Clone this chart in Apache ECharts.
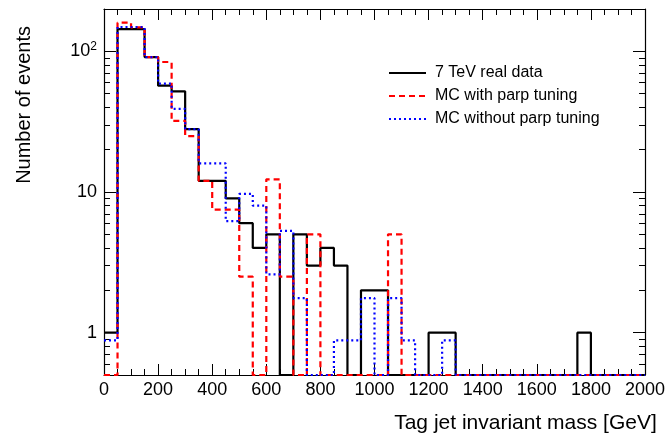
<!DOCTYPE html>
<html>
<head>
<meta charset="utf-8">
<script src="https://cdn.jsdelivr.net/npm/echarts@6/dist/echarts.min.js"></script>
<style>
html,body{margin:0;padding:0;background:#fff;}
#c{width:672px;height:442px;}
</style>
</head>
<body>
<div id="c"></div>
<script>
// Bin lower edges (GeV), bin width 50 GeV
const binLow = [0,50,100,150,200,250,300,350,400,450,500,550,600,650,700,750,800,850,900,950,
                1000,1050,1100,1150,1200,1250,1300,1350,1400,1450,1500,1550,1600,1650,1700,1750,1800,1850,1900,1950];
const binWidth = 50;
// Number of events per bin
const realData = [1,144,144,91,57,52,28,12,12,9,6,4,5,0,5,3,4,3,0,2,
                  2,0,0,0,1,1,0,0,0,0,0,0,0,0,0,1,0,0,0,0];
const mcParp   = [0,160,148,91,84,32,25,12,7.5,7.5,2.5,0,12.3,2.5,0,5,0,0,0,0,
                  0,5,0,0,0,0,0,0,0,0,0,0,0,0,0,0,0,0,0,0];
const mcNoParp = [0.88,149,149,91,59,39,28,16,16,6.2,9.7,8,2.6,5.3,1.76,0,0,0.88,0.88,1.76,
                  0,1.76,0.88,0,0,0.88,0,0,0,0,0,0,0,0,0,0,0,0,0,0];
const seriesNames = ['7 TeV real data','MC with parp tuning','MC without parp tuning'];
const xTicks = [0,200,400,600,800,1000,1200,1400,1600,1800,2000];
const yMajor = [1,10,100];
const yMinor = [0.6,0.7,0.8,0.9,2,3,4,5,6,7,8,9,20,30,40,50,60,70,80,90,200];
const Y_MIN = 0.5, Y_MAX = 200;

function stepPoints(vals){
  const pts = [];
  for (let i = 0; i < binLow.length; i++){
    const v = vals[i] > 0 ? vals[i] : Y_MIN;
    pts.push([binLow[i], v]);
    pts.push([binLow[i] + binWidth, v]);
  }
  return pts;
}

const FONT = 'Liberation Sans';
const chart = echarts.init(document.getElementById('c'), null, {renderer:'canvas'});

function xAx(pos, showLabel){
  return {
    type:'value', position:pos, min:0, max:2000, interval:200,
    axisLine:{show:true, onZero:false, lineStyle:{color:'#000', width:1.2}},
    axisTick:{show:true, inside:true, length:11, lineStyle:{color:'#000', width:1}},
    minorTick:{show:true, splitNumber:4, length:6, lineStyle:{color:'#000', width:1}},
    splitLine:{show:false},
    axisLabel:{show:showLabel, fontSize:18, fontFamily:FONT, color:'#000', margin:6,
      customValues: xTicks, formatter:function(v){ return String(v); }},
    name: showLabel ? 'Tag jet invariant mass [GeV]' : '',
    nameLocation:'middle', nameGap:38, nameMoveOverlap:false,
    nameTextStyle:{fontSize:21, fontFamily:FONT, color:'#000', padding:[0,0,0,302]}
  };
}
function yAx(pos, ticks, len, showLabel, showLine, name){
  return {
    type:'log', position:pos, min:Y_MIN, max:Y_MAX, logBase:10, offset:0,
    axisLine:{show:showLine, onZero:false, lineStyle:{color:'#000', width:1.2}},
    axisTick:{show:true, inside:true, length:len, customValues:ticks, lineStyle:{color:'#000', width:1}},
    splitLine:{show:false},
    axisLabel:{show:showLabel, customValues:yMajor, margin:7, color:'#000',
      formatter:function(v){
        if (Math.abs(v-100) < 1e-6) return '{a|10}{s|2}';
        return '{a|' + Math.round(v) + '}';
      },
      rich:{a:{fontSize:18, fontFamily:FONT, color:'#000'},
            s:{fontSize:12, fontFamily:FONT, color:'#000', padding:[0,0,9,0]}}},
    name: name || '',
    nameLocation:'end', nameRotate:90, nameGap:-17,
    nameTextStyle:{fontSize:20, fontFamily:FONT, color:'#000', align:'right', verticalAlign:'bottom', padding:[0,0,70,0]}
  };
}

const option = {
  animation:false,
  backgroundColor:'#fff',
  grid:{left:104, right:27, top:9, bottom:67, containLabel:false, outerBoundsMode:'none'},
  legend:{
    orient:'vertical', left:383, top:60, itemWidth:37, itemHeight:14, itemGap:7,
    itemStyle:{opacity:0},
    textStyle:{fontSize:16, fontFamily:FONT, color:'#000', padding:[0,0,0,4], lineHeight:16},
    data: seriesNames
  },
  xAxis:[xAx('bottom', true), xAx('top', false)],
  yAxis:[
    yAx('left', yMajor, 12, true, true, 'Number of events'),
    yAx('left', yMinor, 6, false, false),
    yAx('right', yMajor, 12, false, true),
    yAx('right', yMinor, 6, false, false)
  ],
  series:[
    {name:seriesNames[0], type:'line', data:stepPoints(realData), showSymbol:false, symbol:'none',
     lineStyle:{color:'#000', width:2.2, type:'solid'}, itemStyle:{color:'#000'}, z:2},
    {name:seriesNames[1], type:'line', data:stepPoints(mcParp), showSymbol:false, symbol:'none',
     lineStyle:{color:'#ff0000', width:2.2, type:[6,4]}, itemStyle:{color:'#ff0000'}, z:3},
    {name:seriesNames[2], type:'line', data:stepPoints(mcNoParp), showSymbol:false, symbol:'none',
     lineStyle:{color:'#0000ff', width:2.2, type:[2,3]}, itemStyle:{color:'#0000ff'}, z:4}
  ]
};
chart.setOption(option);
</script>
</body>
</html>
